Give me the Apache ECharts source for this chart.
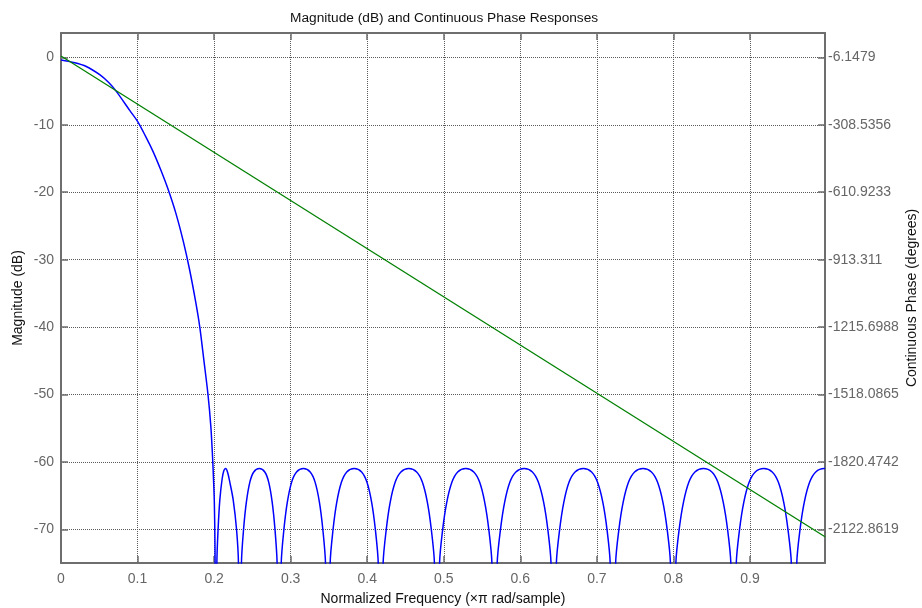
<!DOCTYPE html>
<html>
<head>
<meta charset="utf-8">
<script src="https://cdn.jsdelivr.net/npm/echarts@6/dist/echarts.min.js"></script>
<style>
html,body{margin:0;padding:0;background:#fff;}
#chart{width:922px;height:608px;}
</style>
</head>
<body>
<div id="chart"></div>
<script>
// ---- Data ----
var magFreq = [
  0, 0.016, 0.033, 0.051, 0.062, 0.072, 0.090, 0.100, 0.110, 0.120, 0.130, 0.140, 0.150, 0.160, 0.168, 0.176, 0.1813, 0.1865, 0.192, 0.1957, 0.1979, 0.1992, 0.2003, 0.2012, 0.2020,
  0.2036, 0.2052, 0.2075, 0.2105, 0.2127, 0.2150, 0.2175, 0.2205, 0.2249, 0.2293, 0.2318, 0.2335,
  0.2357, 0.2385, 0.2421, 0.2467, 0.2518, 0.2590, 0.2662, 0.2713, 0.2759, 0.2795, 0.2823, 0.2848,
  0.2877, 0.2912, 0.2956, 0.3013, 0.3077, 0.3166, 0.3255, 0.3319, 0.3376, 0.3420, 0.3455, 0.3484,
  0.3516, 0.3554, 0.3602, 0.3664, 0.3733, 0.3830, 0.3927, 0.3996, 0.4058, 0.4106, 0.4144, 0.4175,
  0.4208, 0.4249, 0.4300, 0.4366, 0.4440, 0.4543, 0.4646, 0.4720, 0.4786, 0.4837, 0.4878, 0.4911,
  0.4945, 0.4986, 0.5039, 0.5107, 0.5182, 0.5287, 0.5392, 0.5468, 0.5535, 0.5588, 0.5629, 0.5663,
  0.5698, 0.5741, 0.5795, 0.5864, 0.5942, 0.6050, 0.6158, 0.6235, 0.6305, 0.6359, 0.6401, 0.6436,
  0.6471, 0.6514, 0.6568, 0.6637, 0.6715, 0.6823, 0.6931, 0.7008, 0.7078, 0.7132, 0.7174, 0.7209,
  0.7245, 0.7288, 0.7343, 0.7414, 0.7493, 0.7603, 0.7713, 0.7792, 0.7863, 0.7918, 0.7961, 0.7996,
  0.8032, 0.8075, 0.8131, 0.8202, 0.8281, 0.8391, 0.8502, 0.8580, 0.8651, 0.8707, 0.8750, 0.8785,
  0.8821, 0.8864, 0.8919, 0.8990, 0.9069, 0.9180, 0.9291, 0.9370, 0.9441, 0.9496, 0.9540, 0.9575,
  0.9611, 0.9654, 0.9709, 0.9780, 0.9859, 0.9970, 0.9980
];
var magDb = [
  -0.4, -0.75, -1.35, -2.6, -3.7, -5.0, -7.9, -9.5, -11.6, -13.9, -16.6, -19.6, -23.1, -27.4, -31.5, -36.3, -40.0, -44.8, -50.0, -54.7, -59.1, -62.5, -66, -73, -100,
  -75, -70, -65.6, -62.5, -61.3, -61, -61.5, -63, -65.6, -70, -75, -100,
  -75, -70, -66, -63, -61.5, -61, -61.5, -63, -66, -70, -75, -100,
  -75, -70, -66, -63, -61.5, -61, -61.5, -63, -66, -70, -75, -100,
  -75, -70, -66, -63, -61.5, -61, -61.5, -63, -66, -70, -75, -100,
  -75, -70, -66, -63, -61.5, -61, -61.5, -63, -66, -70, -75, -100,
  -75, -70, -66, -63, -61.5, -61, -61.5, -63, -66, -70, -75, -100,
  -75, -70, -66, -63, -61.5, -61, -61.5, -63, -66, -70, -75, -100,
  -75, -70, -66, -63, -61.5, -61, -61.5, -63, -66, -70, -75, -100,
  -75, -70, -66, -63, -61.5, -61, -61.5, -63, -66, -70, -75, -100,
  -75, -70, -66, -63, -61.5, -61, -61.5, -63, -66, -70, -75, -100,
  -75, -70, -66, -63, -61.5, -61, -61.5, -63, -66, -70, -75, -100,
  -75, -70, -66, -63, -61.5, -61, -61
];
var phaseFreq = [0, 0.998];
var phaseDeg = [0, -2156];
var phaseTicks = [-6.1479, -308.5356, -610.9233, -913.311, -1215.6988, -1518.0865, -1820.4742, -2122.8619];
var phaseTickLabels = ['-6.1479', '-308.5356', '-610.9233', '-913.311', '-1215.6988', '-1518.0865', '-1820.4742', '-2122.8619'];

// ---- Chart ----
var FONT = "'Liberation Sans', Arial, Helvetica, sans-serif";
var AXIS_COLOR = '#6e6e6e';
var LABEL_COLOR = '#666666';
var GRID_LINE = { color: '#5a5a5a', width: 1, type: [1, 1] };

var magData = magFreq.map(function (f, i) { return [f, magDb[i]]; });
var phaseData = phaseFreq.map(function (f, i) { return [f, phaseDeg[i]]; });

var chart = echarts.init(document.getElementById('chart'), null, { renderer: 'canvas' });
chart.setOption({
  animation: false,
  backgroundColor: '#ffffff',
  textStyle: { fontFamily: FONT },
  title: {
    text: 'Magnitude (dB) and Continuous Phase Responses',
    left: 290, top: 11, padding: 0,
    textStyle: { fontFamily: FONT, fontSize: 13.7, fontWeight: 'normal', color: '#111' }
  },
  grid: { left: 61, right: 97, top: 33, bottom: 45, containLabel: false, outerBoundsMode: 'none' },
  xAxis: [{
    type: 'value', position: 'bottom', min: 0, max: 0.998, interval: 0.1,
    name: 'Normalized Frequency (\u00d7\u03c0 rad/sample)', nameLocation: 'middle', nameGap: 29,
    nameTextStyle: { fontFamily: FONT, fontSize: 14, color: '#111' },
    axisLine: { show: true, onZero: false, lineStyle: { color: AXIS_COLOR, width: 2 } },
    axisTick: { show: true, inside: true, length: 7, lineStyle: { color: AXIS_COLOR, width: 1.5 } },
    axisLabel: { show: true, margin: 9, fontSize: 14, color: LABEL_COLOR, fontFamily: FONT, showMaxLabel: false },
    splitLine: { show: true, lineStyle: GRID_LINE }
  }, {
    type: 'value', position: 'top', min: 0, max: 0.998, interval: 0.1,
    axisLine: { show: true, onZero: false, lineStyle: { color: AXIS_COLOR, width: 2 } },
    axisTick: { show: true, inside: true, length: 7, lineStyle: { color: AXIS_COLOR, width: 1.5 } },
    axisLabel: { show: false },
    splitLine: { show: false }
  }],
  yAxis: [{
    type: 'value', position: 'left', min: -75, max: 3.62, splitNumber: 8,
    name: 'Magnitude (dB)', nameLocation: 'middle', nameGap: 36, nameRotate: 90, nameMoveOverlap: false,
    nameTextStyle: { fontFamily: FONT, fontSize: 14, color: '#111' },
    axisLine: { show: true, onZero: false, lineStyle: { color: AXIS_COLOR, width: 2 } },
    axisTick: { show: true, inside: true, length: 7, lineStyle: { color: AXIS_COLOR, width: 1.5 } },
    axisLabel: { show: true, margin: 7, fontSize: 14, color: LABEL_COLOR, fontFamily: FONT, showMinLabel: false, showMaxLabel: false },
    splitLine: { show: true, lineStyle: GRID_LINE }
  }, {
    type: 'value', position: 'right', min: -2274.0557, max: 103.3165,
    name: 'Continuous Phase (degrees)', nameLocation: 'middle', nameGap: 80, nameRotate: 90, nameMoveOverlap: false,
    nameTextStyle: { fontFamily: FONT, fontSize: 14, color: '#111' },
    axisLine: { show: true, onZero: false, lineStyle: { color: AXIS_COLOR, width: 2 } },
    axisTick: { show: true, inside: true, length: 7, customValues: phaseTicks, lineStyle: { color: AXIS_COLOR, width: 1.5 } },
    axisLabel: {
      show: true, margin: 3, fontSize: 14, color: LABEL_COLOR, fontFamily: FONT, customValues: phaseTicks,
      formatter: function (v) {
        var idx = phaseTicks.indexOf(v);
        return idx >= 0 ? phaseTickLabels[idx] : String(v);
      }
    },
    splitLine: { show: false }
  }],
  series: [{
    name: 'Magnitude', type: 'line', xAxisIndex: 0, yAxisIndex: 0,
    data: magData, showSymbol: false, symbol: 'none', clip: true,
    smooth: 0.3,
    lineStyle: { color: '#0000ff', width: 1.5 }
  }, {
    name: 'Phase', type: 'line', xAxisIndex: 0, yAxisIndex: 1,
    data: phaseData, showSymbol: false, symbol: 'none', clip: true,
    lineStyle: { color: '#008000', width: 1.3 }
  }]
});
</script>
</body>
</html>
